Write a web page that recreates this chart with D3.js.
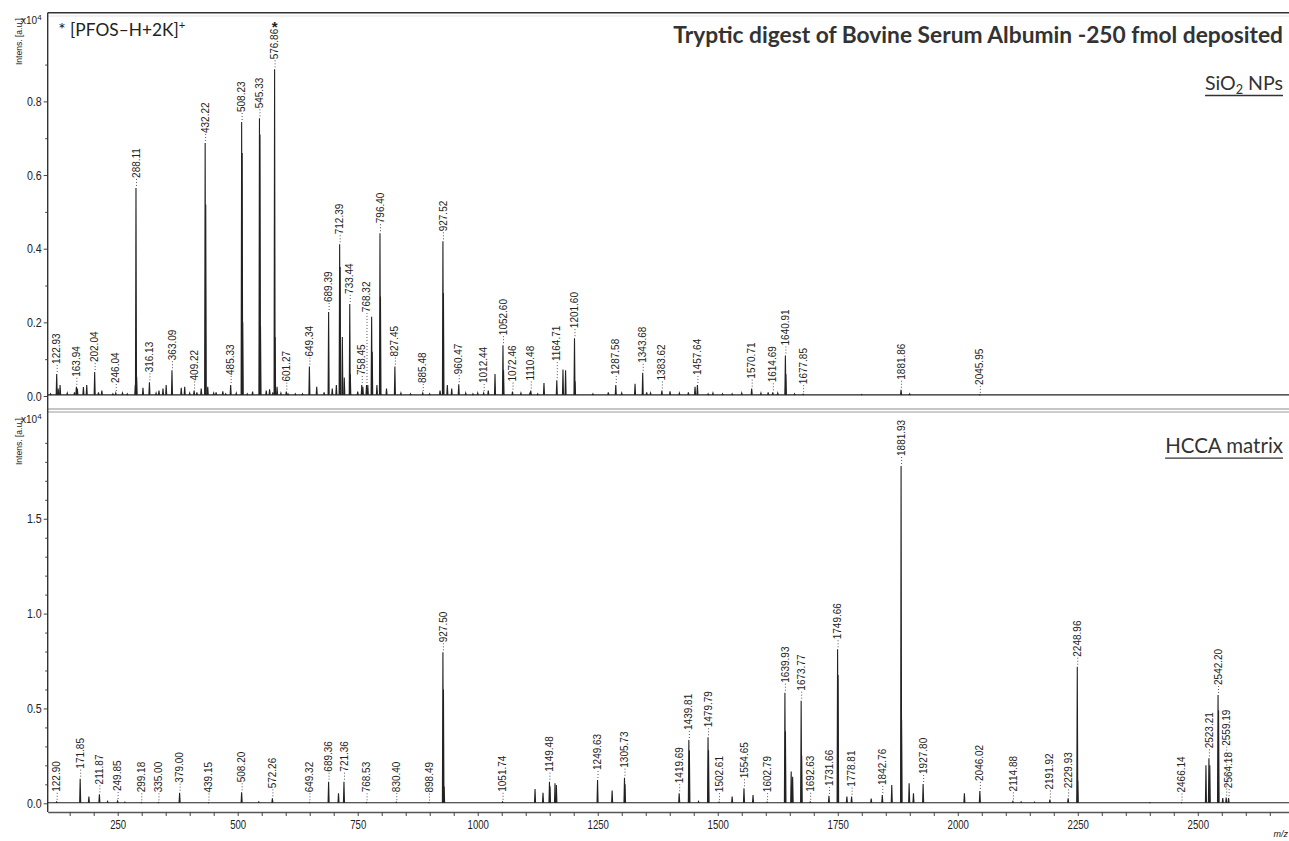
<!DOCTYPE html>
<html><head><meta charset="utf-8">
<script src="https://cdn.jsdelivr.net/npm/d3@7/dist/d3.min.js"></script>
<style>body{margin:0;background:#fff}svg{display:block}</style>
</head><body><svg id="c" width="1289" height="841"></svg>
<script>
// ---------------- data ----------------
const mzDomain = [104.2, 2690];
const topYMax = 1.04, botYMax = 2.06;
const topYMajor = [0, 0.2, 0.4, 0.6, 0.8];
const topYMinor = [0.1, 0.3, 0.5, 0.7, 0.9];
const botYMajor = [0, 0.5, 1.0, 1.5];
const botYMinor = [0.1,0.2,0.3,0.4,0.6,0.7,0.8,0.9,1.1,1.2,1.3,1.4,1.6,1.7,1.8,1.9];
const xMajor = [250,500,750,1000,1250,1500,1750,2000,2250,2500];
const xMinor = [150,200,300,350,400,450,550,600,650,700,800,850,900,950,1050,1100,1150,1200,1300,1350,1400,1450,1550,1600,1650,1700,1800,1850,1900,1950,2050,2100,2150,2200,2300,2350,2400,2450,2550,2600,2650];

// SiO2 NPs spectrum: labelled peaks [m/z, intensity (x1e4), optional label start level]
const topLabeled = [
  [122.93,0.060],[163.94,0.025],[202.04,0.065],[246.04,0.008],[288.11,0.565],
  [316.13,0.037],[363.09,0.070],[409.22,0.015],[432.22,0.687],[485.33,0.030],
  [508.23,0.744],[545.33,0.754],[576.86,0.887],[601.27,0.012],[649.34,0.080],
  [689.39,0.228],[712.39,0.412],[733.44,0.250],[758.45,0.030],[768.32,0.030,0.225],
  [796.40,0.442],[827.45,0.080],[885.48,0.008],[927.52,0.420],[960.47,0.032],
  [1012.44,0.008],[1052.60,0.138],[1072.46,0.012],[1110.48,0.015],[1164.71,0.043,0.092],
  [1201.60,0.157],[1287.58,0.030],[1343.68,0.063],[1383.62,0.015],[1457.64,0.030],
  [1570.71,0.020],[1614.69,0.010],[1640.91,0.110],[1677.85,0.005],[1881.86,0.017],
  [2045.95,0.003]
];
const topUnlabeled = [
  [110,0.006],[126,0.020],[130,0.030],[145,0.008],[160,0.010],[166,0.020],[178.6,0.024],
  [185.5,0.030],[210,0.010],[217,0.015],[240,0.006],[260,0.008],[270,0.006],[286.7,0.030],
  [289.5,0.052],[302.7,0.022],[330,0.008],[336,0.015],[344.4,0.020],[351,0.030],[382.4,0.022],
  [389.6,0.025],[400,0.008],[415,0.010],[424,0.020],[433.4,0.52],[437.6,0.025],[450,0.008],
  [455,0.010],[469,0.013],[475,0.006],[497,0.008],[509.3,0.66],[510.4,0.20],[520,0.006],
  [531,0.012],[546.4,0.71],[547.5,0.19],[559.5,0.015],[566.5,0.018],[573.3,0.010],[577.9,0.16],
  [582,0.025],[590,0.008],[604.8,0.006],[620,0.006],[635,0.006],[664.6,0.025],[680,0.010],
  [697,0.020],[705.5,0.030],[713.4,0.35],[718,0.160],[722,0.050],[734.5,0.06],[750,0.012],
  [760.7,0.025],[771,0.030],[779,0.215],[780.2,0.12],[790,0.030],[797.4,0.27],[810,0.020],
  [840,0.008],[860,0.006],[900,0.006],[921.5,0.015],[928.6,0.28],[936.7,0.030],[945.8,0.020],
  [975,0.008],[990,0.006],[1000,0.008],[1022,0.015],[1036,0.060],[1053.8,0.07],[1090,0.008],
  [1109,0.010],[1125,0.006],[1138,0.035],[1177.6,0.072],[1183,0.070],[1202.7,0.04],
  [1240,0.006],[1272,0.010],[1300,0.008],[1327.7,0.033],[1352,0.010],[1360,0.008],
  [1400.6,0.013],[1420,0.008],[1438.8,0.010],[1452.7,0.025],[1480,0.006],[1490,0.008],
  [1510,0.006],[1530,0.006],[1550,0.008],[1590,0.008],[1605,0.010],[1625,0.008],
  [1641.9,0.06],[1660,0.006],[1800,0.004],[1900,0.006]
];
const topStarred = [576.86];

// HCCA matrix spectrum
const botLabeled = [
  [122.90,0.008],[171.85,0.130],[211.87,0.047],[249.85,0.012],[299.18,0.005],
  [335.00,0.005],[379.00,0.056],[439.15,0.004],[508.20,0.058],[572.26,0.026],
  [649.32,0.005],[689.36,0.114],[721.36,0.114],[768.53,0.005],[830.40,0.006],
  [898.49,0.004],[927.50,0.796],[1051.74,0.008],[1149.48,0.114],[1249.63,0.123],
  [1305.73,0.135],[1419.69,0.053],[1439.81,0.334],[1479.79,0.348],[1502.61,0.006],
  [1554.65,0.079],[1602.79,0.006],[1639.93,0.583],[1673.77,0.541],[1692.63,0.008],
  [1731.66,0.039],[1749.66,0.812],[1778.81,0.035],[1842.76,0.044],[1881.93,1.778],
  [1927.80,0.102],[2046.02,0.065],[2114.88,0.010],[2191.92,0.020],[2229.93,0.026],
  [2248.96,0.720],[2466.14,0.004],[2523.21,0.237],[2542.20,0.571],[2559.19,0.030,0.298],
  [2564.18,0.027]
];
const botUnlabeled = [
  [190,0.035],[229,0.010],[265,0.006],[544,0.008],[710,0.053],[928.6,0.60],[930,0.088],
  [1119.4,0.075],[1136,0.056],[1150.5,0.09],[1161,0.105],[1163.8,0.096],[1280,0.067],
  [1306.8,0.10],[1440.9,0.28],[1460,0.010],[1480.8,0.28],[1530,0.035],[1573.5,0.044],
  [1641,0.38],[1653,0.167],[1656,0.140],[1674.8,0.25],[1750.7,0.676],[1769,0.035],
  [1819.7,0.025],[1862.5,0.096],[1882.9,0.44],[1898.7,0.105],[1907.7,0.053],
  [2013.8,0.053],[2132,0.008],[2160,0.006],[2249.9,0.12],[2400,0.004],[2517,0.20],
  [2525,0.20],[2543.3,0.49],[2552,0.027]
];

// ---------------- drawing ----------------
const svg = d3.select('#c');
const ink = '#222';
const FONT = 'Liberation Sans, Arial, sans-serif';
const x = d3.scaleLinear().domain(mzDomain).range([47.7, 1289]);
const yTop = d3.scaleLinear().domain([0, topYMax]).range([396, 13]);
const yBot = d3.scaleLinear().domain([0, botYMax]).range([803.3, 412.5]);

// frame lines
svg.append('line').attr('x1',47.7).attr('x2',1289).attr('y1',12.8).attr('y2',12.8).attr('stroke','#333').attr('stroke-width',1.4);
svg.append('line').attr('x1',47.7).attr('x2',1289).attr('y1',16).attr('y2',16).attr('stroke','#e4e4e4').attr('stroke-width',1);
svg.append('line').attr('x1',47.7).attr('x2',1289).attr('y1',409).attr('y2',409).attr('stroke','#8a8a8a').attr('stroke-width',1);
svg.append('line').attr('x1',47.7).attr('x2',1289).attr('y1',412).attr('y2',412).attr('stroke','#9a9a9a').attr('stroke-width',1);

function yAxes(y, major, minor) {
  const g = svg.append('g').attr('transform','translate(47.7,0)');
  const a = d3.axisLeft(y).tickValues(major).tickSize(4).tickPadding(2).tickFormat(d3.format('.1f'));
  const ga = g.append('g').call(a);
  ga.select('.domain').remove();
  ga.selectAll('line').attr('stroke','#444');
  ga.selectAll('text').attr('font-family',FONT).attr('font-size',13)
    .attr('fill',ink).attr('x',-6/0.82).attr('transform','scale(0.82,1)');
  const gm = g.append('g').call(d3.axisLeft(y).tickValues(minor).tickSize(2.5).tickFormat(''));
  gm.select('.domain').remove();
  gm.selectAll('line').attr('stroke','#444');
}
yAxes(yTop, topYMajor, topYMinor);
yAxes(yBot, botYMajor, botYMinor);
svg.append('line').attr('x1',47.7).attr('x2',47.7).attr('y1',12.8).attr('y2',812).attr('stroke','#333').attr('stroke-width',1.4);

// x axis
const gx = svg.append('g').attr('transform','translate(0,812)');
const xa = gx.append('g').call(d3.axisBottom(x).tickValues(xMajor).tickSize(4).tickSizeOuter(0).tickPadding(4).tickFormat(d3.format('d')));
xa.select('.domain').attr('stroke','#555').attr('stroke-width',1.6);
xa.selectAll('line').attr('stroke','#444');
xa.selectAll('text').attr('font-family',FONT).attr('font-size',12).attr('fill',ink)
  .attr('text-anchor','middle').style('transform','scaleX(0.8)').style('transform-origin','0px 0px');
const xm = gx.append('g').call(d3.axisBottom(x).tickValues(xMinor).tickSize(4).tickFormat(''));
xm.select('.domain').remove();
xm.selectAll('line').attr('stroke','#444');
svg.append('text').attr('x',1288).attr('y',837).attr('text-anchor','end').attr('font-family',FONT)
  .attr('font-size',9).attr('font-style','italic').attr('fill',ink).text('m/z');

// axis titles
function yTitle(yStart, yExp) {
  svg.append('text').attr('transform',`translate(22,${yStart}) rotate(-90) scale(0.9,1)`)
    .attr('font-family',FONT).attr('font-size',9.5).attr('fill',ink)
    .text('Intens. [a.u.]');
  const t = svg.append('text').attr('x',21).attr('y',yExp).attr('font-family',FONT)
    .attr('font-size',10).attr('fill',ink);
  t.append('tspan').text('x10');
  t.append('tspan').attr('dy',-4).attr('font-size',8).text('4');
}
yTitle(65, 23.5);
yTitle(465, 423);

// spectra
function drawSpectrum(y, labeled, unlabeled, starred) {
  const g = svg.append('g');
  const base = 0.003, hw = 1.1;
  const line = d3.line().x(d => x(d[0])).y(d => y(d[1]));
  g.append('path').attr('d', line([[mzDomain[0], base], [mzDomain[1], base]]))
    .attr('fill','none').attr('stroke',ink).attr('stroke-width',1.1);
  const peaks = labeled.map(d => [d[0], d[1]]).concat(unlabeled);
  g.selectAll('path.pk').data(peaks).join('path').attr('class','pk')
    .attr('d', d => line([[d[0]-hw, base], [d[0], d[1]], [d[0]+hw, base]]))
    .attr('fill','none').attr('stroke',ink).attr('stroke-width',1.1).attr('stroke-linejoin','miter');
  const lg = g.selectAll('g.lbl').data(labeled).join('g').attr('class','lbl');
  lg.each(function(d){
    const s = d3.select(this);
    const px = x(d[0]), py = y(d[1]);
    const b = d.length > 2 ? y(d[2]) : py - 9;
    s.append('line').attr('x1',px+0.5).attr('x2',px+0.5).attr('y1',py-2).attr('y2',b)
      .attr('stroke','#555').attr('stroke-width',1).attr('stroke-dasharray','1,2');
    const t = s.append('text').attr('transform',`translate(${px+3.6},${b-1}) rotate(-90)`)
      .attr('font-family',FONT).attr('font-size',10).attr('fill',ink)
      .text(d[0].toFixed(2));
    if (starred.includes(d[0])) {
      const len = t.node().getComputedTextLength();
      svg.append('text').attr('x',px).attr('y',b - 1 - len + 3).attr('text-anchor','middle')
        .attr('font-family',FONT).attr('font-size',15).attr('font-weight','bold')
        .attr('fill',ink).text('*');
    }
  });
}
drawSpectrum(yTop, topLabeled, topUnlabeled, topStarred);
drawSpectrum(yBot, botLabeled, botUnlabeled, []);

// annotations
function fit(t, target) {
  const w = t.node().getComputedTextLength();
  const fs = parseFloat(t.attr('font-size'));
  t.attr('font-size', fs * target / w);
}
const title = svg.append('text').attr('x',1283).attr('y',43.3).attr('text-anchor','end')
  .attr('font-family','Lato, "Open Sans", sans-serif').attr('font-weight','bold').attr('font-size',22)
  .attr('fill','#333').text('Tryptic digest of Bovine Serum Albumin -250 fmol deposited');
fit(title, 610);

function underlined(xr, yb, target, build) {
  const t = svg.append('text').attr('x',xr).attr('y',yb).attr('text-anchor','end')
    .attr('font-family','Lato, "Open Sans", sans-serif').attr('font-size',19).attr('fill','#333');
  build(t);
  fit(t, target);
  const bb = t.node().getBBox();
  svg.append('line').attr('x1',bb.x).attr('x2',bb.x+bb.width).attr('y1',yb+5.5).attr('y2',yb+5.5)
    .attr('stroke','#333').attr('stroke-width',1.3);
}
underlined(1283, 90, 78, t => {
  t.append('tspan').text('SiO');
  t.append('tspan').attr('dy',4).attr('font-size','0.65em').text('2');
  t.append('tspan').attr('dy',-4).text(' NPs');
});
underlined(1283, 452.7, 118, t => { t.text('HCCA matrix'); });

const pf = svg.append('text').attr('x',58.3).attr('y',36)
  .attr('font-family','Lato, "Open Sans", sans-serif').attr('font-size',16).attr('fill','#222');
pf.append('tspan').text('* [PFOS\u2013H+2K]');
pf.append('tspan').attr('dy',-7).attr('font-size','0.65em').text('+');
fit(pf, 127);
</script></body></html>
